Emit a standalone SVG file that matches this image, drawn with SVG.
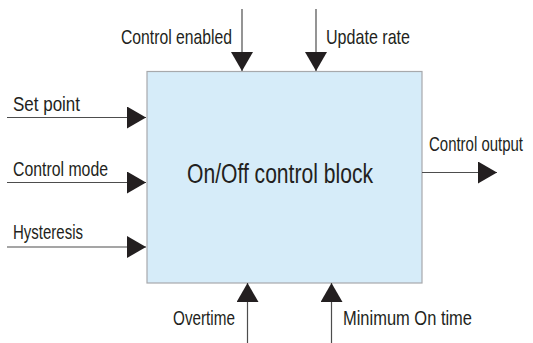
<svg xmlns="http://www.w3.org/2000/svg" width="533" height="343" viewBox="0 0 533 343">
<style>
text{font-family:"Liberation Sans",Arial,sans-serif;fill:#231f20;font-size:21px}
.title{font-size:27px}
.conn{stroke:#4d4d4d;stroke-width:1.2;fill:none}
</style>
<defs>
<marker id="ah" viewBox="0 0 19 22" refX="19" refY="11" markerWidth="19" markerHeight="22" markerUnits="userSpaceOnUse" orient="auto">
<path d="M0,0 L19,11 L0,22 Z" fill="#231f20"/>
</marker>
</defs>
<g id="block">
<rect x="147" y="71.5" width="275" height="211.5" fill="#d6ecf9" stroke="#a7a9ac" stroke-width="1.2"/>
<text class="title" x="187" y="182.5" textLength="186" lengthAdjust="spacingAndGlyphs">On/Off control block</text>
</g>
<g id="connectors">
<line class="conn" x1="242" y1="9" x2="242" y2="71" marker-end="url(#ah)"/>
<line class="conn" x1="316" y1="9" x2="316" y2="71" marker-end="url(#ah)"/>
<line class="conn" x1="7" y1="117.5" x2="146" y2="117.5" marker-end="url(#ah)"/>
<line class="conn" x1="7" y1="182.5" x2="146" y2="182.5" marker-end="url(#ah)"/>
<line class="conn" x1="7" y1="247" x2="146" y2="247" marker-end="url(#ah)"/>
<line class="conn" x1="422" y1="172.5" x2="497" y2="172.5" marker-end="url(#ah)"/>
<line class="conn" x1="247.5" y1="343" x2="247.5" y2="283" marker-end="url(#ah)"/>
<line class="conn" x1="331.5" y1="343" x2="331.5" y2="283" marker-end="url(#ah)"/>
</g>
<g id="labels">
<text x="121" y="44" textLength="111" lengthAdjust="spacingAndGlyphs">Control enabled</text>
<text x="326" y="44" textLength="84" lengthAdjust="spacingAndGlyphs">Update rate</text>
<text x="13" y="111" textLength="67" lengthAdjust="spacingAndGlyphs">Set point</text>
<text x="13" y="176" textLength="95" lengthAdjust="spacingAndGlyphs">Control mode</text>
<text x="13" y="239" textLength="70" lengthAdjust="spacingAndGlyphs">Hysteresis</text>
<text x="429" y="151" textLength="94" lengthAdjust="spacingAndGlyphs">Control output</text>
<text x="173" y="325" textLength="62" lengthAdjust="spacingAndGlyphs">Overtime</text>
<text x="343" y="325" textLength="129" lengthAdjust="spacingAndGlyphs">Minimum On time</text>
</g>
</svg>
